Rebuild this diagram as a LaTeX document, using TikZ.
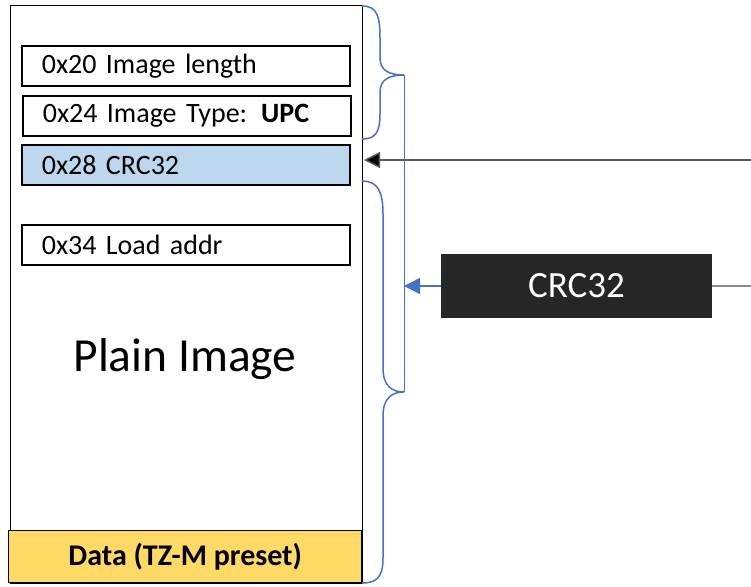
\documentclass[tikz,border=0pt]{standalone}
\usepackage{fontspec}
\setmainfont{Carlito}
\usetikzlibrary{positioning,arrows.meta}
\definecolor{crcfill}{HTML}{BDD7EE}
\definecolor{presetfill}{HTML}{FFD966}
\definecolor{bracecol}{HTML}{4472C4}
\definecolor{crcbox}{HTML}{262626}
\definecolor{feedcol}{HTML}{595959}

\tikzset{
  field/.style={draw,line width=1.8pt,anchor=north west,minimum height=40pt,
    inner xsep=20pt,text width=288pt,align=left,
    font=\fontsize{28}{32}\selectfont},
  bracepath/.style={draw=bracecol,line width=1.5pt},
}

\begin{document}
\begin{tikzpicture}[x=1pt,y=-1pt]
\useasboundingbox (0,0) rectangle (751,586);

%% image frame and header fields
\node[draw,line width=1.4pt,anchor=north west,minimum width=352pt,minimum height=578pt,inner sep=0pt] (img) at (9.5,5) {};
\node[field] (len) at (21,45) {0x20 Image length};
\node[field] (type) at (22,95) {0x24 Image Type: \textbf{UPC}};
\node[field,fill=crcfill] (crcfield) at (21,144) {0x28 CRC32};
\node[field] (load) at (21,224) {0x34 Load addr};
\node[font=\fontsize{47.5}{52}\selectfont] (plain) at (185,359) {Plain Image};
\node[draw,line width=1.4pt,fill=presetfill,anchor=south west,minimum width=353pt,minimum height=52pt,
  font=\bfseries\fontsize{30}{34}\selectfont] (data) at (8,583) {Data (TZ-M preset)};

%% braces
\coordinate (tipup) at (404,75);
\coordinate (tiplow) at (404,392);
\draw[bracepath] (362,6) .. controls (377,6) and (380,16) .. (380,38) -- (380,58)
  .. controls (380,71) and (390,75) .. (tipup)
  .. controls (390,75) and (380,79) .. (380,92) -- (380,114)
  .. controls (380,133) and (375,139) .. (362,139);
\draw[bracepath] (362,181) .. controls (378,181) and (383,192) .. (383,214) -- (383,368)
  .. controls (383,386) and (392,392) .. (tiplow)
  .. controls (392,392) and (383,398) .. (383,416) -- (383,558)
  .. controls (383,577) and (377,583) .. (362,583);
\draw[draw=bracecol,line width=1pt] (tipup) -- (tiplow);

%% CRC block and feeds
\node[fill=crcbox,text=white,minimum width=271pt,minimum height=64pt,
  font=\fontsize{37}{40}\selectfont] (crc) at (576.5,286) {CRC32};
\coordinate (feedin) at (751,160);
\coordinate (hit) at (364,160);
\coordinate (feedout) at (751,286);
\draw[feedcol,line width=1.4pt,-{Triangle[length=16pt,width=16pt,fill=black]}] (feedin) -- (hit);
\draw[bracecol,line width=1.4pt,-{Triangle[length=16pt,width=16pt]}] (crc.west) -- (crc.west -| tipup);
\draw[feedcol!70,line width=1.4pt] (crc.east) -- (feedout);
\end{tikzpicture}
\end{document}
